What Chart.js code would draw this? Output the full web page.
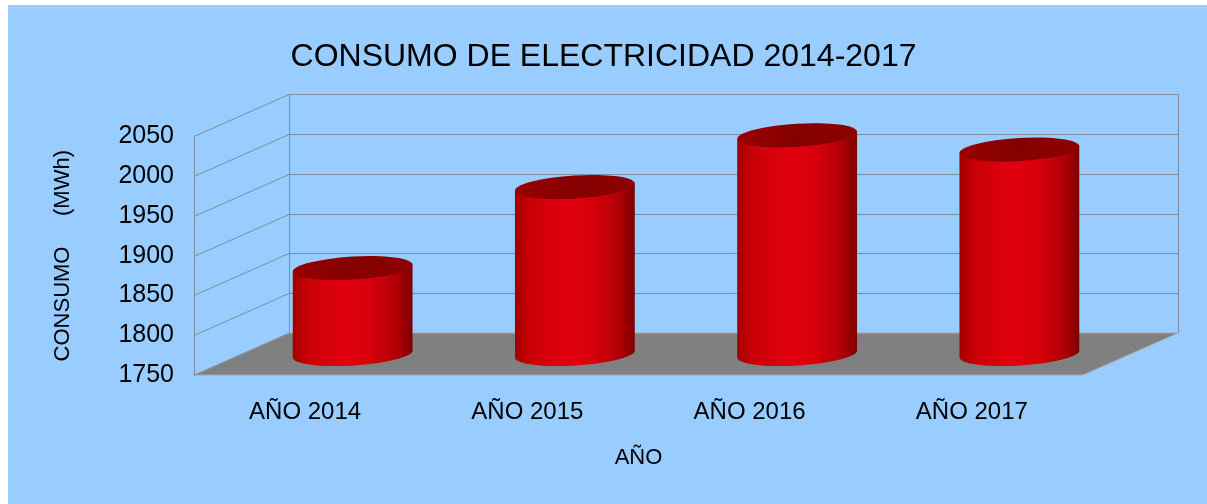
<!DOCTYPE html>
<html>
<head>
<meta charset="utf-8">
<script src="https://cdn.jsdelivr.net/npm/chart.js@4.4.1/dist/chart.umd.min.js"></script>
<style>
html,body{margin:0;padding:0;background:#fff;}
canvas{display:block;}
</style>
</head>
<body>
<canvas id="c" width="1207" height="504"></canvas>
<script>
// ---- data ----
const categories = ['AÑO 2014', 'AÑO 2015', 'AÑO 2016', 'AÑO 2017'];
const consumo = [1858, 1960, 2025, 2007];
const yMin = 1750;
const yMax = 2050;
const yStep = 50;
const chartTitle = 'CONSUMO DE ELECTRICIDAD 2014-2017';
const xTitle = 'AÑO';
const yTitle = 'CONSUMO     (MWh)';

// ---- 3D look ----
const DEPTH_X = 95, DEPTH_Y = -42;

Chart.defaults.font.family = "'Liberation Sans', Arial, sans-serif";
Chart.defaults.color = '#000';

const bgPlugin = {
  id: 'bg',
  beforeDraw(chart) {
    const ctx = chart.ctx;
    ctx.save();
    ctx.fillStyle = '#ffffff';
    ctx.fillRect(0, 0, chart.width, chart.height);
    ctx.fillStyle = '#99ccff';
    ctx.fillRect(8, 5, chart.width - 8, chart.height - 5);
    ctx.restore();
  }
};

const wallsPlugin = {
  id: 'walls',
  beforeDatasetsDraw(chart) {
    const ctx = chart.ctx;
    const ys = chart.scales.y;
    const {left: L, right: R, top: T, bottom: B} = chart.chartArea;
    ctx.save();
    // floor
    ctx.beginPath();
    ctx.moveTo(L, B);
    ctx.lineTo(L + DEPTH_X, B + DEPTH_Y);
    ctx.lineTo(R + DEPTH_X, B + DEPTH_Y);
    ctx.lineTo(R, B);
    ctx.closePath();
    ctx.fillStyle = '#808080';
    ctx.fill();
    ctx.strokeStyle = '#a8a8a8';
    ctx.lineWidth = 1;
    ctx.stroke();
    // grid lines
    ctx.strokeStyle = '#7d8ea0';
    ctx.lineWidth = 1;
    ys.ticks.forEach(t => {
      const y = Math.round(ys.getPixelForValue(t.value)) + 0.5;
      ctx.beginPath();
      ctx.moveTo(L, y);
      ctx.lineTo(L + DEPTH_X, y + DEPTH_Y);
      if (t.value !== yMin) ctx.lineTo(R + DEPTH_X, y + DEPTH_Y);
      ctx.stroke();
    });
    // vertical edges
    const seg = (x1, y1, x2, y2) => { ctx.beginPath(); ctx.moveTo(x1, y1); ctx.lineTo(x2, y2); ctx.stroke(); };
    seg(L + 0.5, T, L + 0.5, B);
    seg(L + DEPTH_X + 0.5, T + DEPTH_Y, L + DEPTH_X + 0.5, B + DEPTH_Y);
    seg(R + DEPTH_X + 0.5, T + DEPTH_Y, R + DEPTH_X + 0.5, B + DEPTH_Y);
    ctx.restore();
  },
  afterDatasetsDraw(chart) {
    const ctx = chart.ctx;
    const ys = chart.scales.y;
    const meta = chart.getDatasetMeta(0);
    const rot = -0.06;
    const floorY = ys.getPixelForValue(yMin);
    meta.data.forEach(el => {
      const cx = el.x + DEPTH_X / 2;
      const topY = el.y + DEPTH_Y / 2;
      const baseY = floorY + DEPTH_Y / 2;
      const rx = el.width / 2;
      const ry = 11.5;
      ctx.save();
      const g = ctx.createLinearGradient(cx - rx, 0, cx + rx, 0);
      g.addColorStop(0, '#a00000');
      g.addColorStop(0.12, '#c80006');
      g.addColorStop(0.45, '#e2000f');
      g.addColorStop(0.65, '#d6000b');
      g.addColorStop(0.88, '#ae0004');
      g.addColorStop(1, '#7a0000');
      ctx.beginPath();
      ctx.moveTo(cx + rx * Math.cos(rot), topY + rx * Math.sin(rot));
      ctx.ellipse(cx, baseY, rx, ry, rot, 0, Math.PI, false);
      ctx.lineTo(cx - rx * Math.cos(rot), topY - rx * Math.sin(rot));
      ctx.closePath();
      ctx.fillStyle = g;
      ctx.fill();
      // top ellipse
      const tg = ctx.createLinearGradient(cx - rx, topY - ry, cx + rx, topY + ry);
      tg.addColorStop(0, '#9a0000');
      tg.addColorStop(0.5, '#840000');
      tg.addColorStop(1, '#8e0000');
      ctx.beginPath();
      ctx.ellipse(cx, topY, rx, ry, rot, 0, Math.PI * 2);
      ctx.fillStyle = tg;
      ctx.fill();
      ctx.restore();
    });
  }
};

new Chart(document.getElementById('c'), {
  type: 'bar',
  data: {
    labels: categories,
    datasets: [{
      label: 'Consumo',
      data: consumo,
      backgroundColor: 'rgba(0,0,0,0)',
      borderWidth: 0,
      barPercentage: 0.54,
      categoryPercentage: 1.0
    }]
  },
  options: {
    responsive: false,
    animation: false,
    devicePixelRatio: 1,
    layout: { padding: 0 },
    plugins: {
      legend: { display: false },
      tooltip: { enabled: false },
      title: {
        display: true,
        text: chartTitle,
        color: '#000',
        font: { size: 32, weight: 'normal' },
        padding: { top: 38, bottom: 60 }
      }
    },
    scales: {
      x: {
        grid: { display: false, drawTicks: false },
        border: { display: false },
        ticks: { font: { size: 24 }, color: '#000', padding: 23, maxRotation: 0 },
        title: { display: true, text: xTitle, color: '#000', font: { size: 22 }, padding: { bottom: 33 } },
        afterFit(s) { s.height = 129; }
      },
      y: {
        min: yMin,
        max: yMax,
        grid: { display: false, drawTicks: false },
        border: { display: false },
        ticks: { stepSize: yStep, font: { size: 25 }, color: '#000', padding: 20,
                 callback: v => String(v) },
        title: { display: true, text: yTitle, color: '#000', font: { size: 22 }, padding: { top: 50 } },
        afterFit(s) { s.width = 194; }
      },
      yRight: {
        position: 'right',
        display: true,
        min: yMin,
        max: yMax,
        grid: { display: false, drawTicks: false },
        border: { display: false },
        ticks: { display: false },
        afterFit(s) { s.width = 124; }
      }
    }
  },
  plugins: [bgPlugin, wallsPlugin]
});
</script>
</body>
</html>
